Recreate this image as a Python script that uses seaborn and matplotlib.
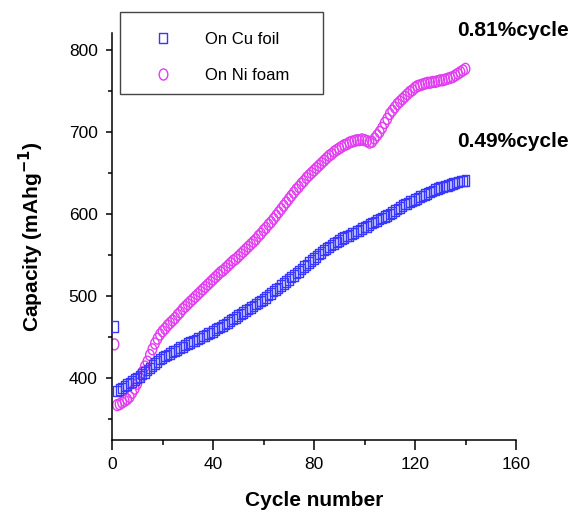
import numpy as np
import pandas as pd
import matplotlib
matplotlib.use("Agg")
import matplotlib.pyplot as plt
from matplotlib.path import Path
from matplotlib.patches import Rectangle
from matplotlib.lines import Line2D
from matplotlib.ticker import MultipleLocator
import seaborn as sns

# ---------------- data ----------------
cycles = list(range(1, 141))

cu_foil = [463,
           384, 386, 388, 390, 392, 394, 396, 398, 400,
           402, 405, 407, 410, 412, 415, 418, 420, 423, 425,
           427, 428, 430, 432, 433, 435, 437, 438, 440, 442,
           443, 445, 446, 448, 449, 451, 452, 454, 455, 457,
           459, 461, 462, 464, 466, 468, 470, 472, 474, 476,
           478, 480, 482, 484, 486, 488, 490, 492, 494, 496,
           498, 501, 503, 506, 508, 510, 513, 515, 518, 520,
           523, 525, 528, 530, 533, 536, 538, 541, 543, 546,
           548, 551, 553, 556, 558, 560, 562, 564, 566, 568,
           570, 571, 573, 574, 576, 577, 579, 580, 582, 584,
           585, 587, 589, 590, 592, 594, 595, 597, 598, 600,
           602, 604, 606, 608, 610, 612, 613, 615, 616, 618,
           619, 621, 622, 624, 625, 627, 628, 630, 631, 632,
           633, 634, 635, 636, 637, 638, 639, 640, 640, 641]

ni_foam = [441,
           367, 368, 370, 372, 374, 377, 382, 387, 393,
           400, 407, 414, 420, 428, 435, 442, 448, 453, 457,
           460, 464, 467, 470, 473, 477, 480, 484, 487, 490,
           493, 496, 499, 502, 505, 508, 511, 514, 517, 520,
           523, 526, 529, 531, 534, 537, 540, 543, 545, 548,
           551, 554, 557, 560, 563, 566, 569, 573, 576, 580,
           583, 587, 590, 594, 598, 602, 606, 610, 614, 618,
           622, 626, 630, 633, 637, 640, 644, 647, 650, 653,
           656, 659, 662, 665, 668, 671, 673, 676, 678, 680,
           682, 684, 685, 687, 688, 689, 690, 690, 691, 690,
           689, 687, 688, 692, 696, 700, 705, 711, 716, 722,
           726, 730, 734, 737, 740, 743, 746, 749, 751, 754,
           756, 757, 758, 759, 760, 760, 761, 761, 762, 763,
           763, 764, 765, 766, 767, 769, 771, 773, 775, 777]

series_names = ["On Cu foil", "On Ni foam"]
rate_labels = ["0.81%cycle", "0.49%cycle"]
x_ticks = [0, 40, 80, 120, 160]
y_ticks = [400, 500, 600, 700, 800]

# ---------------- style ----------------
sns.set_style("ticks")
plt.rcParams["font.family"] = ["Liberation Sans", "DejaVu Sans"]
plt.rcParams["text.color"] = "black"
plt.rcParams["axes.labelcolor"] = "black"
plt.rcParams["xtick.color"] = "black"
plt.rcParams["ytick.color"] = "black"

blue = "#3737ff"
magenta = "#e23cf0"

# tall (slightly squeezed) square and ellipse markers
sq = Path([(-0.72, -1), (0.72, -1), (0.72, 1), (-0.72, 1), (-0.72, -1)],
          [Path.MOVETO, Path.LINETO, Path.LINETO, Path.LINETO, Path.CLOSEPOLY])
uc = Path.unit_circle()
ell = Path(uc.vertices * np.array([0.78, 1.0]), uc.codes)

df_cu = pd.DataFrame({"cycle": cycles, "capacity": cu_foil})
df_ni = pd.DataFrame({"cycle": cycles, "capacity": ni_foam})

fig = plt.figure(figsize=(5.73, 5.17), dpi=100)
ax = fig.add_axes([112 / 573, 1 - 440 / 517, (516 - 112) / 573, (440 - 33) / 517])

sns.scatterplot(data=df_cu, x="cycle", y="capacity", ax=ax, marker=sq, s=58,
                facecolor="none", edgecolor=blue, linewidth=1.0, zorder=3)
sns.scatterplot(data=df_ni, x="cycle", y="capacity", ax=ax, marker=ell, s=62,
                facecolor="none", edgecolor=magenta, linewidth=1.0, zorder=2)

ax.set_xlim(0, 160)
ax.set_ylim(324.4, 820.7)
ax.set_xticks(x_ticks)
ax.set_yticks(y_ticks)
ax.xaxis.set_minor_locator(MultipleLocator(20))
ax.yaxis.set_minor_locator(MultipleLocator(50))
ax.tick_params(axis="x", which="major", direction="out", length=7.2, width=1.1,
               labelsize=12.5, pad=5, colors="black")
ax.tick_params(axis="x", which="minor", direction="out", length=3.6, width=1.1)
ax.tick_params(axis="y", which="major", direction="out", length=4.3, width=1.1,
               labelsize=12.5, pad=6, colors="black")
ax.tick_params(axis="y", which="minor", direction="out", length=3.0, width=1.1)
sns.despine(ax=ax)
for s in ["left", "bottom"]:
    ax.spines[s].set_linewidth(1.1)
    ax.spines[s].set_color("black")

ax.set_xlabel("Cycle number", fontsize=15, fontweight="bold", labelpad=14, color="black")
ax.set_ylabel("Capacity (mAhg$^{\\mathbf{-1}}$)", fontsize=15, fontweight="bold",
              labelpad=16, color="black")

# rate annotations
ax.text(136.5, 824, rate_labels[0], fontsize=15, fontweight="bold", va="center",
        ha="left", clip_on=False, color="black")
ax.text(136.5, 688, rate_labels[1], fontsize=15, fontweight="bold", va="center",
        ha="left", clip_on=False, color="black")

# legend
handles = [
    Line2D([], [], linestyle="none", marker=sq, markersize=7.5, markerfacecolor="none",
           markeredgecolor=blue, markeredgewidth=1.0),
    Line2D([], [], linestyle="none", marker=ell, markersize=8, markerfacecolor="none",
           markeredgecolor=magenta, markeredgewidth=1.0),
]
leg = fig.legend(handles, series_names, loc="center left",
                 bbox_to_anchor=(148 / 573, 1 - 57.5 / 517), frameon=False,
                 fontsize=12, handlelength=1.8, handletextpad=1.6,
                 labelspacing=1.3, borderpad=0, borderaxespad=0)
for t in leg.get_texts():
    t.set_color("black")
fig.add_artist(Rectangle((120 / 573, 1 - 94 / 517), (323 - 120) / 573, (94 - 12) / 517,
                         transform=fig.transFigure, fill=False, edgecolor="#444444",
                         linewidth=1.0))

fig.savefig("out.png", dpi=100)
